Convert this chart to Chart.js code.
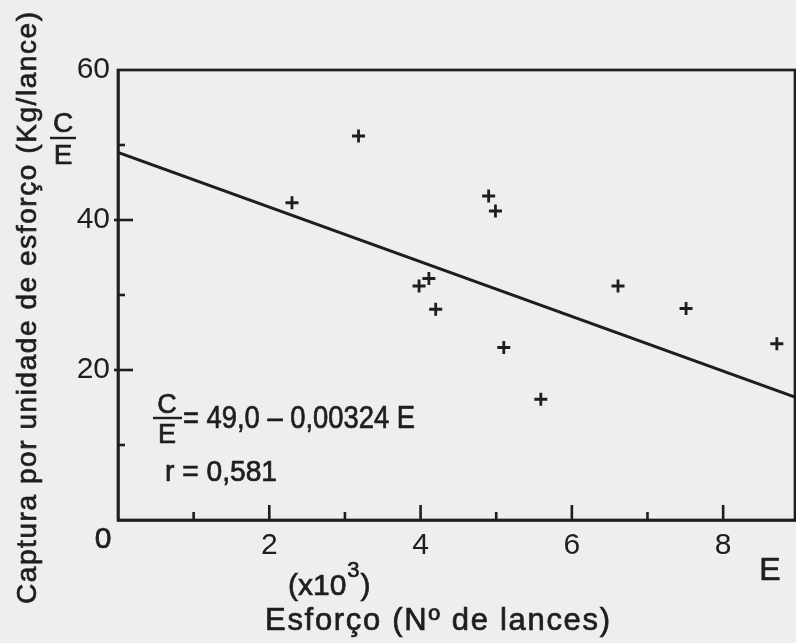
<!DOCTYPE html>
<html><head><meta charset="utf-8">
<script src="https://cdn.jsdelivr.net/npm/chart.js@4.4.1/dist/chart.umd.min.js"></script>
<style>html,body{margin:0;padding:0;background:#eeeeee;}canvas{display:block;}</style>
</head><body>
<canvas id="c" width="796" height="643"></canvas>
<script>
// Data (E in thousands of hauls, C/E in kg/haul)
const effortE = [2.30, 3.18, 4.90, 4.99, 3.98, 4.11, 4.20, 6.61, 7.51, 5.10, 8.71, 5.59];
const cpue    = [42.3, 51.2, 43.2, 41.2, 31.2, 32.2, 28.1, 31.2, 28.2, 23.0, 23.5, 16.1];
// Fitted line as drawn
const fitE  = [0, 8.95];
const fitCE = [49.0, 16.4];
// Tick labels and tick marks
const xTickValues = [2, 4, 6, 8];
const xTickLabels = ['2', '4', '6', '8'];
const xMinorTicks = [1, 3, 5, 7];
const yTickValues = [20, 40, 60];
const yTickLabels = ['20', '40', '60'];
const yMajorTicks = [20, 40];
const yMinorTicks = [10, 30, 50];

const INK = '#1e1e1e';
const FONT = '"Liberation Sans", Arial, sans-serif';

function ink(ctx, txt, x, y) {
  ctx.fillText(txt, x, y);
  ctx.lineWidth = 0.7;
  ctx.strokeText(txt, x, y);
}
function fitText(ctx, txt, x, y, target, size) {
  ctx.font = size + 'px ' + FONT;
  ctx.letterSpacing = '0px';
  ctx.textAlign = 'left'; ctx.textBaseline = 'middle';
  const w = ctx.measureText(txt).width;
  if (w > target) {
    ctx.save();
    ctx.translate(x, y);
    ctx.scale(target / w, 1);
    ink(ctx, txt, 0, 0);
    ctx.restore();
  } else {
    const sp = (target - w) / Math.max(1, txt.length - 1);
    ctx.letterSpacing = sp.toFixed(2) + 'px';
    ink(ctx, txt, x, y);
    ctx.letterSpacing = '0px';
  }
}
function fraction(ctx, cx, yC, yE, yBar, x1, x2, size) {
  ctx.font = size + 'px ' + FONT;
  ctx.textAlign = 'center'; ctx.textBaseline = 'middle';
  ink(ctx, 'C', cx, yC);
  ink(ctx, 'E', cx, yE);
  ctx.lineWidth = 2.4;
  ctx.beginPath(); ctx.moveTo(x1, yBar); ctx.lineTo(x2, yBar); ctx.stroke();
}

const overlay = {
  id: 'overlay',
  afterDraw(chart) {
    const ctx = chart.ctx, a = chart.chartArea;
    const xs = chart.scales.x, ys = chart.scales.y;
    ctx.save();
    ctx.strokeStyle = INK; ctx.fillStyle = INK;
    // frame
    ctx.lineWidth = 2.7;
    ctx.strokeRect(a.left, a.top, a.right - a.left, a.bottom - a.top);
    // inward tick marks
    const hTick = (v, len, out) => {
      const y = ys.getPixelForValue(v);
      ctx.fillRect(a.left - out, y - 1.3, len + out, 2.6);
    };
    const vTick = (v, len) => {
      const x = xs.getPixelForValue(v);
      ctx.fillRect(x - 1.3, a.bottom - len, 2.6, len + 1);
    };
    yMajorTicks.forEach(v => hTick(v, 15, 4));
    yMinorTicks.forEach(v => hTick(v, 7, 0));
    xTickValues.forEach(v => vTick(v, 15));
    xMinorTicks.forEach(v => vTick(v, 8));

    ctx.textAlign = 'center'; ctx.textBaseline = 'middle';
    // origin label
    ctx.font = '30px ' + FONT;
    ink(ctx, '0', 103, 540);
    // E at end of x axis
    ctx.font = '32px ' + FONT;
    ink(ctx, 'E', 770, 571);
    // (x10^3)
    ctx.textAlign = 'left';
    ctx.font = '30px ' + FONT;
    let x0 = 288;
    ink(ctx, '(x10', x0, 587);
    x0 += ctx.measureText('(x10').width;
    ctx.font = '22px ' + FONT;
    ink(ctx, '3', x0 + 1, 571);
    x0 += ctx.measureText('3').width + 2;
    ctx.font = '30px ' + FONT;
    ink(ctx, ')', x0, 587);
    // x title
    fitText(ctx, 'Esforço (Nº de lances)', 265, 621, 345, 31);
    // y title rotated
    ctx.save();
    ctx.translate(28, 308);
    ctx.rotate(-Math.PI / 2);
    fitText(ctx, 'Captura por unidade de esforço (Kg/lance)', -296, 0, 592, 28);
    ctx.restore();
    // C/E fraction beside y axis
    fraction(ctx, 63, 124, 156, 138, 50, 76, 28);
    // equation in the plot
    fraction(ctx, 167, 406, 436, 418, 153, 182, 27);
    fitText(ctx, '= 49,0 – 0,00324 E', 183, 419, 232, 31);
    fitText(ctx, 'r = 0,581', 165, 473, 112, 29);
    ctx.restore();
  }
};

new Chart(document.getElementById('c'), {
  type: 'scatter',
  data: {
    datasets: [
      {
        type: 'line',
        data: fitE.map((e, i) => ({ x: e, y: fitCE[i] })),
        borderColor: INK, borderWidth: 3, pointRadius: 0, fill: false, tension: 0
      },
      {
        data: effortE.map((e, i) => ({ x: e, y: cpue[i] })),
        pointStyle: 'cross', pointRadius: 6.5, borderWidth: 2.8,
        borderColor: INK, backgroundColor: INK
      }
    ]
  },
  options: {
    responsive: false, animation: false, devicePixelRatio: 1,
    layout: { autoPadding: false, padding: { top: 70, right: 1, left: 0, bottom: 0 } },
    plugins: { legend: { display: false }, tooltip: { enabled: false } },
    scales: {
      x: {
        type: 'linear', min: 0, max: 8.95,
        grid: { display: false, drawTicks: false },
        border: { display: true, color: INK, width: 2.7 },
        ticks: {
          stepSize: 1, autoSkip: false, maxRotation: 0, includeBounds: false, padding: 8,
          color: INK, font: { family: FONT, size: 30 },
          callback: v => { const i = xTickValues.indexOf(v); return i >= 0 ? xTickLabels[i] : ''; }
        },
        afterFit: s => { s.height = 123; }
      },
      y: {
        type: 'linear', min: 0, max: 60,
        grid: { display: false, drawTicks: false },
        border: { display: true, color: INK, width: 2.7 },
        ticks: {
          stepSize: 10, autoSkip: false, padding: 8,
          color: INK, font: { family: FONT, size: 30 },
          callback: v => { const i = yTickValues.indexOf(v); return i >= 0 ? yTickLabels[i] : ''; }
        },
        afterFit: s => { s.width = 118; }
      }
    }
  },
  plugins: [overlay]
});
</script>
</body></html>
